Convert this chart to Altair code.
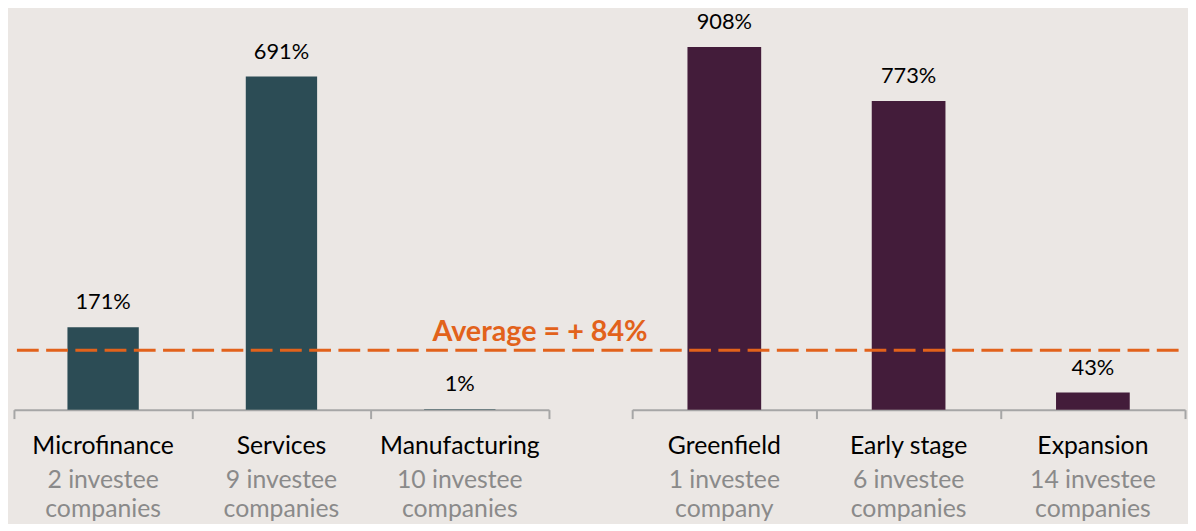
import altair as alt
import pandas as pd

# ---- data ----
sector_cats = ["Microfinance", "Services", "Manufacturing"]
sector_vals = [171, 691, 1]
sector_count1 = ["2 investee", "9 investee", "10 investee"]
sector_count2 = ["companies", "companies", "companies"]

stage_cats = ["Greenfield", "Early stage", "Expansion"]
stage_vals = [908, 773, 43]
stage_count1 = ["1 investee", "6 investee", "14 investee"]
stage_count2 = ["company", "companies", "companies"]

AVERAGE = 84

# ---- style ----
FONT = "Lato"
BG = "#EBE7E4"
TEAL = "#2C4C55"
PURPLE = "#431C3A"
ORANGE = "#E2621B"
GREY_TXT = "#8A8A8A"
AXIS_GREY = "#A6A6A6"
H = 403


def make_df(cats, vals, c1, c2):
    return pd.DataFrame({
        "cat": cats,
        "val": vals,
        "label": [f"{v}%" for v in vals],
        "c1": c1,
        "c2": c2,
    })


def panel(df, cats, color, ymax, width, extra=None):
    base = alt.Chart(df).encode(
        x=alt.X(
            "cat:N",
            sort=cats,
            scale=alt.Scale(paddingInner=0, paddingOuter=0),
            axis=alt.Axis(
                title=None, labels=False, domainColor=AXIS_GREY, domainWidth=2,
                tickColor=AXIS_GREY, tickWidth=2, tickSize=9, tickBand="extent",
                grid=False,
            ),
        ),
    )
    yenc = alt.Y("val:Q", scale=alt.Scale(domain=[0, ymax], nice=False, zero=True), axis=None)
    bars = base.mark_bar(color=color, width=alt.RelativeBandSize(0.4)).encode(y=yenc)
    labels = base.mark_text(
        font=FONT, fontSize=22, color="black", baseline="alphabetic", dy=-18
    ).encode(y=yenc, text="label:N")
    names = base.mark_text(
        font=FONT, fontSize=25, color="black", baseline="alphabetic", dy=45
    ).encode(y=alt.Y(datum=0), text="cat:N")
    cnt1 = base.mark_text(
        font=FONT, fontSize=25, color=GREY_TXT, baseline="alphabetic", dy=79
    ).encode(y=alt.Y(datum=0), text="c1:N")
    cnt2 = base.mark_text(
        font=FONT, fontSize=25, color=GREY_TXT, baseline="alphabetic", dy=108
    ).encode(y=alt.Y(datum=0), text="c2:N")
    layers = [bars, labels, names, cnt1, cnt2]
    if extra:
        layers += extra
    return alt.layer(*layers).properties(width=width, height=H)


left_df = make_df(sector_cats, sector_vals, sector_count1, sector_count2)
right_df = make_df(stage_cats, stage_vals, stage_count1, stage_count2)

avg_df = pd.DataFrame({"avg": [AVERAGE], "txt": [f"Average = + {AVERAGE}%"]})
avg_rule = alt.Chart(avg_df).mark_rule(
    color=ORANGE, strokeDash=[22, 7.5], strokeWidth=3
).encode(x=alt.value(-621), x2=alt.value(559), y=alt.value(343))
avg_text = alt.Chart(avg_df).mark_text(
    font=FONT, fontSize=29, fontWeight="bold", color=ORANGE,
    baseline="alphabetic", align="center"
).encode(x=alt.value(-93), y=alt.value(334), text="txt:N")

left = panel(left_df, sector_cats, TEAL, 828, 540)
right = panel(right_df, stage_cats, PURPLE, 1000, 558, extra=[avg_rule, avg_text])

chart = alt.hconcat(left, right, spacing=84, bounds="flush").resolve_scale(
    y="independent", x="independent"
).properties(
    background=BG,
    padding={"left": 5, "top": 0, "right": 0, "bottom": 0},
).configure_view(stroke=None)

chart.save("out.html", embed_options={"renderer": "svg", "actions": False})
